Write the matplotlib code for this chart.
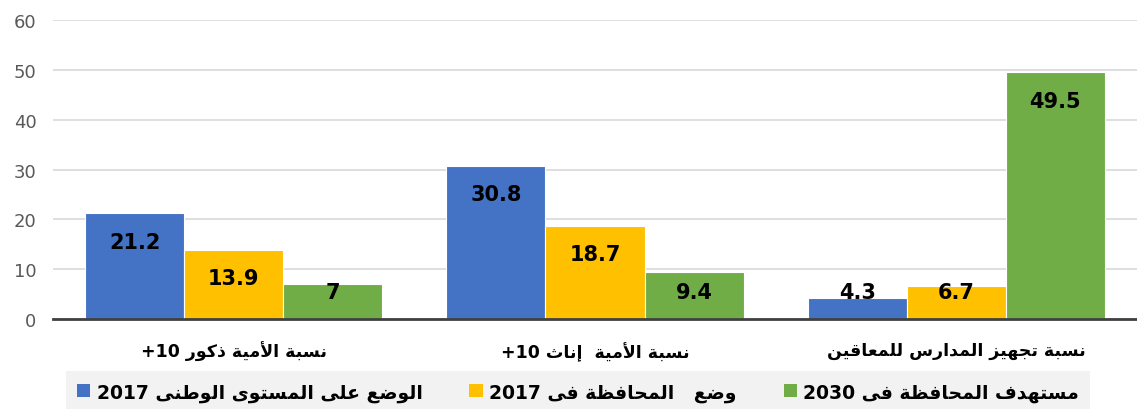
import matplotlib
matplotlib.use("Agg")
import matplotlib.pyplot as plt
from matplotlib.patches import Patch
import numpy as np

# ---------------- data ----------------
categories = ["نسبة الأمية ذكور +10", "نسبة الأمية  إناث +10", "نسبة تجهيز المدارس للمعاقين"]
series_names = ["الوضع على المستوى الوطنى 2017", "وضع   المحافظة فى 2017", "مستهدف المحافظة فى 2030"]
national_2017 = [21.2, 30.8, 4.3]
governorate_2017 = [13.9, 18.7, 6.7]
target_2030 = [7, 9.4, 49.5]
series_values = [national_2017, governorate_2017, target_2030]
y_ticks = [0, 10, 20, 30, 40, 50, 60]
colors = ["#4472C4", "#FFC000", "#70AD47"]

# ---------------- minimal Arabic shaping (presentation forms) ----------------
FORMS = {
    'ا': ('\uFE8D', '\uFE8E', None, None),
    'أ': ('\uFE83', '\uFE84', None, None),
    'إ': ('\uFE87', '\uFE88', None, None),
    'آ': ('\uFE81', '\uFE82', None, None),
    'ب': ('\uFE8F', '\uFE90', '\uFE91', '\uFE92'),
    'ة': ('\uFE93', '\uFE94', None, None),
    'ت': ('\uFE95', '\uFE96', '\uFE97', '\uFE98'),
    'ث': ('\uFE99', '\uFE9A', '\uFE9B', '\uFE9C'),
    'ج': ('\uFE9D', '\uFE9E', '\uFE9F', '\uFEA0'),
    'ح': ('\uFEA1', '\uFEA2', '\uFEA3', '\uFEA4'),
    'خ': ('\uFEA5', '\uFEA6', '\uFEA7', '\uFEA8'),
    'د': ('\uFEA9', '\uFEAA', None, None),
    'ذ': ('\uFEAB', '\uFEAC', None, None),
    'ر': ('\uFEAD', '\uFEAE', None, None),
    'ز': ('\uFEAF', '\uFEB0', None, None),
    'س': ('\uFEB1', '\uFEB2', '\uFEB3', '\uFEB4'),
    'ش': ('\uFEB5', '\uFEB6', '\uFEB7', '\uFEB8'),
    'ص': ('\uFEB9', '\uFEBA', '\uFEBB', '\uFEBC'),
    'ض': ('\uFEBD', '\uFEBE', '\uFEBF', '\uFEC0'),
    'ط': ('\uFEC1', '\uFEC2', '\uFEC3', '\uFEC4'),
    'ظ': ('\uFEC5', '\uFEC6', '\uFEC7', '\uFEC8'),
    'ع': ('\uFEC9', '\uFECA', '\uFECB', '\uFECC'),
    'غ': ('\uFECD', '\uFECE', '\uFECF', '\uFED0'),
    'ف': ('\uFED1', '\uFED2', '\uFED3', '\uFED4'),
    'ق': ('\uFED5', '\uFED6', '\uFED7', '\uFED8'),
    'ك': ('\uFED9', '\uFEDA', '\uFEDB', '\uFEDC'),
    'ل': ('\uFEDD', '\uFEDE', '\uFEDF', '\uFEE0'),
    'م': ('\uFEE1', '\uFEE2', '\uFEE3', '\uFEE4'),
    'ن': ('\uFEE5', '\uFEE6', '\uFEE7', '\uFEE8'),
    'ه': ('\uFEE9', '\uFEEA', '\uFEEB', '\uFEEC'),
    'و': ('\uFEED', '\uFEEE', None, None),
    'ى': ('\uFEEF', '\uFEF0', None, None),
    'ي': ('\uFEF1', '\uFEF2', '\uFEF3', '\uFEF4'),
}
LAM_ALEF = {'آ': ('\uFEF5', '\uFEF6'), 'أ': ('\uFEF7', '\uFEF8'),
            'إ': ('\uFEF9', '\uFEFA'), 'ا': ('\uFEFB', '\uFEFC')}


def joins_next(c):
    return c in FORMS and FORMS[c][2] is not None


def shape_word(w):
    out = []
    i = 0
    n = len(w)
    while i < n:
        c = w[i]
        prev_join = i > 0 and joins_next(w[i - 1])
        if c == 'ل' and i + 1 < n and w[i + 1] in LAM_ALEF:
            out.append(LAM_ALEF[w[i + 1]][1 if prev_join else 0])
            i += 2
            continue
        if c not in FORMS:
            out.append(c)
            i += 1
            continue
        nxt_join = joins_next(c) and i + 1 < n and w[i + 1] in FORMS
        iso, fin, ini, med = FORMS[c]
        if prev_join and nxt_join:
            out.append(med)
        elif prev_join:
            out.append(fin)
        elif nxt_join:
            out.append(ini)
        else:
            out.append(iso)
        i += 1
    return ''.join(out)


def visual(text):
    tokens = text.split(' ')
    res = []
    for t in tokens:
        if any(ch in FORMS for ch in t):
            res.append(shape_word(t)[::-1])
        else:
            res.append(t)
    return ' '.join(reversed(res))


# ---------------- figure ----------------
W, H = 1137, 410
fig = plt.figure(figsize=(W / 100, H / 100), dpi=100)
ax = fig.add_axes([53 / W, (H - 320) / H, (W - 53) / W, (320 - 21) / H])

x = np.arange(len(categories))
bw = 0.274
for k, vals in enumerate(series_values):
    pos = x + (k - 1) * bw
    ax.bar(pos, vals, width=bw, color=colors[k], edgecolor="white", linewidth=0.8, zorder=3)
    for xp, v in zip(pos, vals):
        ax.text(xp, max(v - 5.7, 5.5), f"{v:g}", ha="center", va="center",
                fontsize=15, fontweight="bold", color="black", zorder=4,
                family="DejaVu Sans")

ax.set_ylim(0, 60)
ax.set_xlim(-0.5, 2.5)
ax.set_yticks(y_ticks)
ax.set_yticklabels([str(t) for t in y_ticks], fontsize=13, color="#595959")
ax.tick_params(axis="y", length=0, pad=12)
ax.yaxis.grid(True, color="#d9d9d9", linewidth=1.2, zorder=0)
ax.set_axisbelow(True)
for s in ["top", "right", "left"]:
    ax.spines[s].set_visible(False)
ax.spines["bottom"].set_color("#404040")
ax.spines["bottom"].set_linewidth(2)
ax.spines["bottom"].set_zorder(5)

ax.set_xticks(x)
ax.set_xticklabels([visual(c) for c in categories], fontsize=12.5, fontweight="bold",
                   color="black", family="DejaVu Sans")
ax.tick_params(axis="x", length=0, pad=16)

handles = [Patch(facecolor=c, edgecolor="none") for c in colors]
leg = fig.legend(handles, [visual(s) for s in series_names], ncol=3,
                 loc="lower center", bbox_to_anchor=(578 / W, -0.01),
                 bbox_transform=fig.transFigure, frameon=True, fancybox=False,
                 facecolor="#f2f2f2", edgecolor="none", framealpha=1,
                 prop={"size": 13.5, "weight": "bold", "family": "DejaVu Sans"},
                 handlelength=0.7, handleheight=0.7, handletextpad=0.35,
                 columnspacing=2.5, borderpad=0.6, borderaxespad=0)

fig.savefig("out.png", dpi=100, facecolor="white")
